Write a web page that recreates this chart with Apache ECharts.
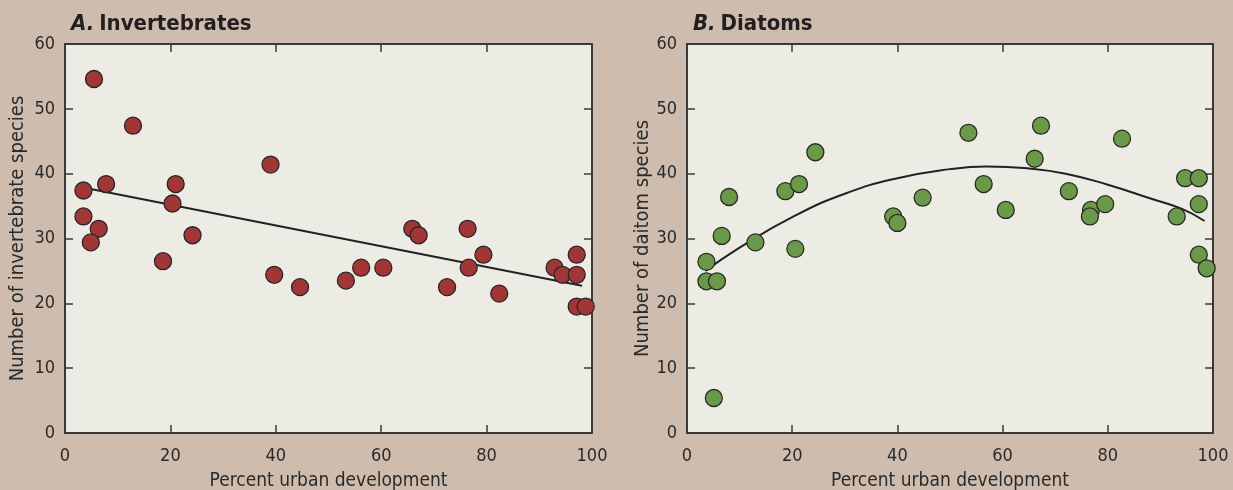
<!DOCTYPE html>
<html>
<head>
<meta charset="utf-8">
<script src="https://cdn.jsdelivr.net/npm/echarts@6/dist/echarts.min.js"></script>
<style>
  html, body { margin: 0; padding: 0; background: #cebdae; }
  #chart { width: 1233px; height: 490px; }
</style>
</head>
<body>
<div id="chart"></div>
<script>
// Panel A: invertebrate species counts vs. percent urban development
const invertUrban = [3.5, 7.8, 3.5, 6.4, 4.9, 5.5, 12.9, 18.6, 20.4, 21.0, 24.2, 39.0, 39.7, 44.6, 53.3,
  56.2, 60.4, 65.9, 67.1, 72.5, 76.4, 76.6, 79.4, 82.4, 92.9, 94.4, 97.1, 97.1, 97.1, 98.8];
const invertSpecies = [37.4, 38.4, 33.4, 31.5, 29.4, 54.6, 47.4, 26.5, 35.4, 38.4, 30.5, 41.4, 24.4, 22.5, 23.5,
  25.5, 25.5, 31.5, 30.5, 22.5, 31.5, 25.5, 27.5, 21.5, 25.5, 24.4, 27.5, 24.4, 19.5, 19.5];
// Linear trend line endpoints
const invertTrend = [[5.1, 37.6], [98.1, 22.7]];

// Panel B: diatom species counts vs. percent urban development
const diatomUrban = [8.0, 18.7, 21.3, 6.6, 13.0, 20.6, 3.7, 3.7, 5.7, 5.1, 24.4, 53.5, 67.3, 66.1, 56.4,
  44.8, 60.6, 39.2, 40.0, 72.6, 76.8, 76.6, 79.5, 82.7, 93.1, 94.7, 97.3, 97.3, 97.3, 98.8];
const diatomSpecies = [36.4, 37.3, 38.4, 30.4, 29.4, 28.4, 26.4, 23.4, 23.4, 5.4, 43.3, 46.3, 47.4, 42.3, 38.4,
  36.3, 34.4, 33.4, 32.4, 37.3, 34.4, 33.4, 35.3, 45.4, 33.4, 39.3, 39.3, 35.3, 27.5, 25.4];
// Fitted curve, sampled along its length
const diatomCurveX = [3.5, 10, 20, 30, 40, 50, 57, 65, 72, 80, 88, 94, 98.4];
const diatomCurveY = [25.0, 28.6, 33.3, 36.9, 39.3, 40.7, 41.1, 40.8, 40.0, 38.3, 36.2, 34.6, 32.7];

const xTickValues = [0, 20, 40, 60, 80, 100];
const yTickValues = [0, 10, 20, 30, 40, 50, 60];

const FONT = '"Liberation Sans Narrow", "DejaVu Sans Condensed", "Roboto Condensed", sans-serif';
const INK = '#2b2a2a';
const AXIS = '#3a3a3a';

function pairs(xs, ys) { return xs.map((x, i) => [x, ys[i]]); }

function xAxes(gridIndex) {
  const common = {
    type: 'value', gridIndex, min: 0, max: 100, interval: 20,
    axisLine: { show: true, onZero: false, lineStyle: { color: AXIS, width: 2 } },
    axisTick: { show: true, inside: true, length: 8, lineStyle: { color: AXIS, width: 1.5 } },
    splitLine: { show: false }
  };
  return [
    Object.assign({}, common, {
      position: 'bottom',
      name: 'Percent urban development', nameLocation: 'middle', nameGap: 39,
      nameTextStyle: { fontFamily: FONT, fontSize: 19, color: INK },
      axisLabel: { show: true, margin: 14, fontFamily: FONT, fontSize: 18, color: INK,
        formatter: v => xTickValues.includes(v) ? String(v) : '' }
    }),
    Object.assign({}, common, { position: 'top', axisLabel: { show: false } })
  ];
}

function yAxes(gridIndex, title, gap) {
  const common = {
    type: 'value', gridIndex, min: 0, max: 60, interval: 10,
    axisLine: { show: true, onZero: false, lineStyle: { color: AXIS, width: 2 } },
    axisTick: { show: true, inside: true, length: 8, lineStyle: { color: AXIS, width: 1.5 } },
    splitLine: { show: false }
  };
  return [
    Object.assign({}, common, {
      position: 'left',
      name: title, nameLocation: 'middle', nameGap: gap, nameRotate: 90,
      nameTextStyle: { fontFamily: FONT, fontSize: 20, color: INK },
      axisLabel: { show: true, margin: 10, fontFamily: FONT, fontSize: 18, color: INK,
        formatter: v => yTickValues.includes(v) ? String(v) : '' }
    }),
    Object.assign({}, common, { position: 'right', axisLabel: { show: false } })
  ];
}

const titleRich = {
  a: { fontFamily: FONT, fontSize: 22, fontWeight: 'bold', fontStyle: 'italic', color: '#231f20' },
  b: { fontFamily: FONT, fontSize: 22, fontWeight: 'bold', color: '#231f20' }
};

const gridCommon = { top: 44, bottom: 57, show: true, backgroundColor: '#ecece5', borderWidth: 0,
  containLabel: false, outerBoundsMode: 'none' };

const option = {
  backgroundColor: '#cebdae',
  animation: false,
  title: [
    { left: 66, top: 8, text: '{a|A.} {b|Invertebrates}', textStyle: { rich: titleRich } },
    { left: 688, top: 8, text: '{a|B.} {b|Diatoms}', textStyle: { rich: titleRich } }
  ],
  grid: [
    Object.assign({ left: 65, right: 641 }, gridCommon),
    Object.assign({ left: 687, right: 20 }, gridCommon)
  ],
  xAxis: xAxes(0).concat(xAxes(1)),
  yAxis: yAxes(0, 'Number of invertebrate species', 37).concat(yAxes(1, 'Number of daitom species', 34)),
  series: [
    {
      type: 'line', xAxisIndex: 0, yAxisIndex: 0, data: invertTrend,
      symbol: 'none', lineStyle: { color: '#222', width: 2 }, z: 2
    },
    {
      type: 'scatter', xAxisIndex: 0, yAxisIndex: 0, data: pairs(invertUrban, invertSpecies),
      symbolSize: 17,
      itemStyle: { color: '#a13637', borderColor: '#2a2424', borderWidth: 1.3, opacity: 1 }, z: 3
    },
    {
      type: 'line', xAxisIndex: 2, yAxisIndex: 2, data: pairs(diatomCurveX, diatomCurveY),
      symbol: 'none', smooth: 0.5, lineStyle: { color: '#222', width: 2 }, z: 2
    },
    {
      type: 'scatter', xAxisIndex: 2, yAxisIndex: 2, data: pairs(diatomUrban, diatomSpecies),
      symbolSize: 17,
      itemStyle: { color: '#6a9a49', borderColor: '#2a2a24', borderWidth: 1.3, opacity: 1 }, z: 3
    }
  ]
};

const chart = echarts.init(document.getElementById('chart'), null, { renderer: 'canvas' });
chart.setOption(option);
</script>
</body>
</html>
